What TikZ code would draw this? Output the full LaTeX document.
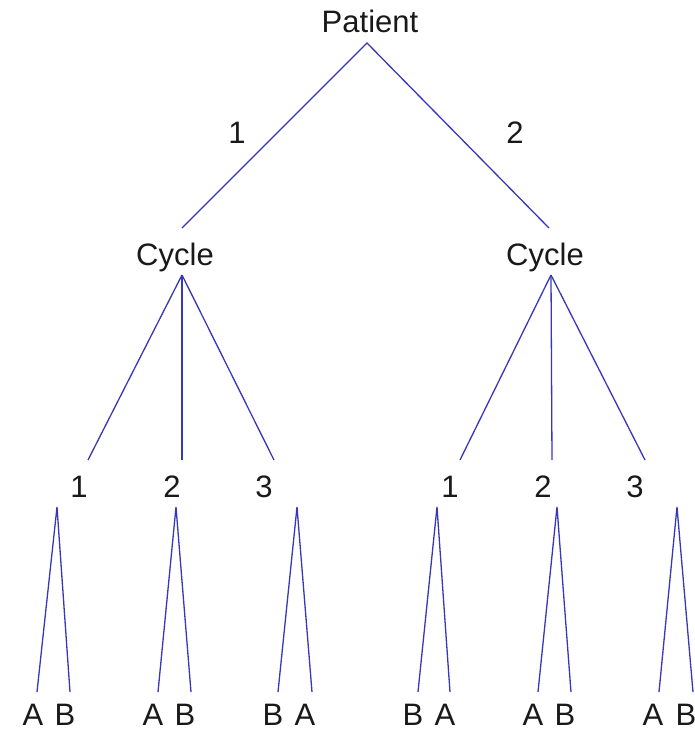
\documentclass[tikz,border=0pt]{standalone}
\usepackage{fontspec}
\setmainfont{Liberation Sans}
\definecolor{treeblue}{RGB}{55,55,185}
\definecolor{txt}{RGB}{25,25,25}
\begin{document}
\begin{tikzpicture}[x=1pt,y=-1pt,
  lbl/.style={inner sep=0pt,text=txt,font=\fontsize{31}{36}\selectfont,anchor=base},
  edge/.style={draw=treeblue,line width=1.3pt}]
\useasboundingbox (0,0) rectangle (695,732);
% texts
\node[lbl] (patient) at (370,32) {Patient};
\node[lbl] (e1) at (237,143) {1};
\node[lbl] (e2) at (515,143) {2};
\node[lbl] (cycL) at (175,265) {Cycle};
\node[lbl] (cycR) at (545,265) {Cycle};
\node[lbl] (nL1) at (79,497) {1};
\node[lbl] (nL2) at (172,497) {2};
\node[lbl] (nL3) at (264,497) {3};
\node[lbl] (nR1) at (450,497) {1};
\node[lbl] (nR2) at (543,497) {2};
\node[lbl] (nR3) at (635,497) {3};
\node[lbl] (l1a) at (33,725) {A};
\node[lbl] (l1b) at (65,725) {B};
\node[lbl] (l2a) at (153,725) {A};
\node[lbl] (l2b) at (185,725) {B};
\node[lbl] (l3a) at (273,725) {B};
\node[lbl] (l3b) at (305,725) {A};
\node[lbl] (l4a) at (413,725) {B};
\node[lbl] (l4b) at (445,725) {A};
\node[lbl] (l5a) at (533,725) {A};
\node[lbl] (l5b) at (565,725) {B};
\node[lbl] (l6a) at (653,725) {A};
\node[lbl] (l6b) at (686,725) {B};
% joints
\coordinate (pt) at (367,43);
\coordinate (cLin) at (182,228);
\coordinate (cRin) at (549,228);
\coordinate (cLout) at (182,275);
\coordinate (cRout) at (551,275);
\coordinate (aL1) at (88,460);
\coordinate (aL2) at (182,460);
\coordinate (aL3) at (274,460);
\coordinate (aR1) at (460,460);
\coordinate (aR2) at (552,460);
\coordinate (aR3) at (645,460);
\coordinate (s1) at (57,507);
\coordinate (s2) at (176,507);
\coordinate (s3) at (297,507);
\coordinate (s4) at (437,507);
\coordinate (s5) at (557,507);
\coordinate (s6) at (677,507);
\coordinate (t1a) at (37,692);
\coordinate (t1b) at (70,692);
\coordinate (t2a) at (158,692);
\coordinate (t2b) at (191,692);
\coordinate (t3a) at (278,692);
\coordinate (t3b) at (312,692);
\coordinate (t4a) at (418,692);
\coordinate (t4b) at (450,692);
\coordinate (t5a) at (538,692);
\coordinate (t5b) at (571,692);
\coordinate (t6a) at (659,692);
\coordinate (t6b) at (693,692);
% edges
\draw[edge] (cLin) -- (pt) -- (cRin);
\draw[edge] (cLout) -- (aL1);
\draw[edge] (cLout) -- (aL2);
\draw[edge] (cLout) -- (aL3);
\draw[edge] (cRout) -- (aR1);
\draw[edge] (cRout) -- (aR2);
\draw[edge] (cRout) -- (aR3);
\draw[edge] (t1a) -- (s1) -- (t1b);
\draw[edge] (t2a) -- (s2) -- (t2b);
\draw[edge] (t3a) -- (s3) -- (t3b);
\draw[edge] (t4a) -- (s4) -- (t4b);
\draw[edge] (t5a) -- (s5) -- (t5b);
\draw[edge] (t6a) -- (s6) -- (t6b);
\end{tikzpicture}
\end{document}
